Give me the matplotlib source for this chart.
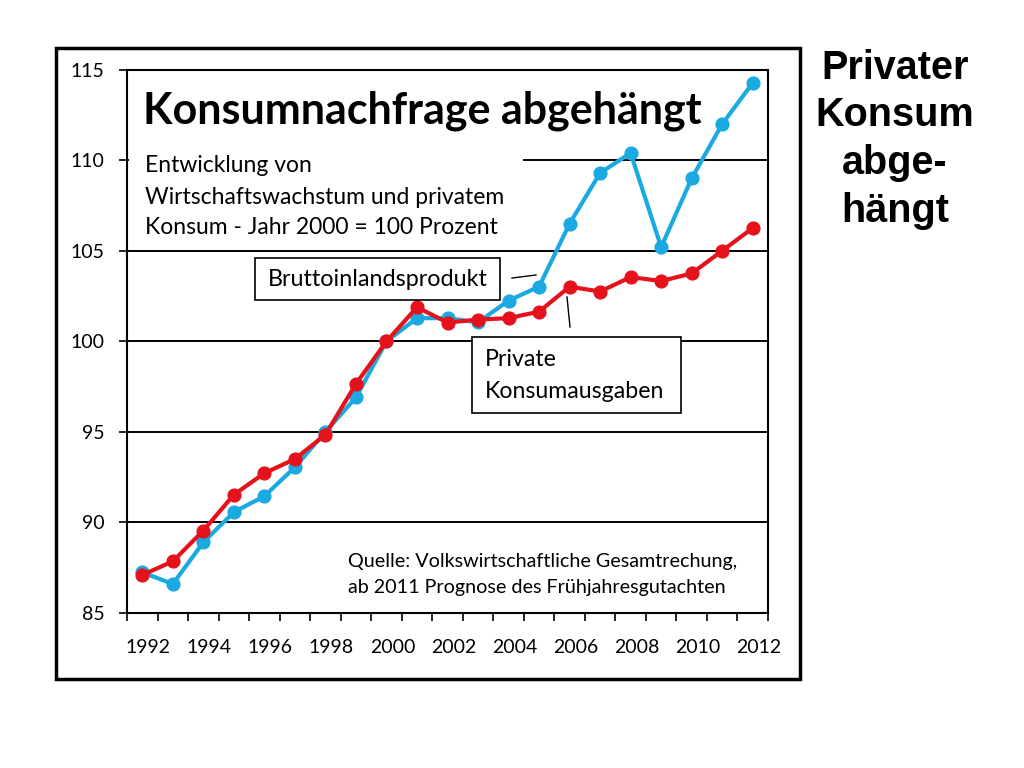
import matplotlib
matplotlib.use("Agg")
import matplotlib.pyplot as plt
from matplotlib.patches import Rectangle
from matplotlib.lines import Line2D
from matplotlib.transforms import ScaledTranslation
import numpy as np

years = list(range(1992, 2013))
bip = [87.25, 86.6, 88.9, 90.57, 91.45, 93.05, 95.0, 96.9, 100.0, 101.28, 101.28,
       101.05, 102.25, 103.02, 106.5, 109.3, 110.4, 105.2, 109.0, 112.0, 114.27]
konsum = [87.1, 87.85, 89.55, 91.53, 92.72, 93.5, 94.85, 97.65, 100.0, 101.88, 101.04,
          101.2, 101.28, 101.64, 103.02, 102.75, 103.55, 103.33, 103.75, 105.0, 106.26]
yticks = [85, 90, 95, 100, 105, 110, 115]
xlabels = [str(y) for y in range(1992, 2013, 2)]

BLUE = "#1BA9E1"
RED = "#E5121C"
FONT = "Lato"

W, H = 1024, 768
fig = plt.figure(figsize=(W / 100, H / 100), dpi=100)

def fx(x):
    return x / W

def fy(y):
    return 1 - y / H

ax = fig.add_axes([fx(127), fy(613), fx(768) - fx(127), fy(69.7) - fy(613)])
ax.set_xlim(1991.5, 2012.5)
ax.set_ylim(85, 115)

ax.set_axisbelow(True)
ax.yaxis.grid(True, color="black", linewidth=1.4)
ax.set_yticks(yticks)
ax.set_yticklabels([str(v) for v in yticks], fontsize=14, family=FONT)
ax.tick_params(axis="y", direction="out", length=6, width=1.2, pad=10)

ax.set_xticks(list(range(1992, 2013, 2)))
ax.set_xticklabels(xlabels, fontsize=14, family=FONT)
ax.set_xticks([1991.5 + k for k in range(22)], minor=True)
ax.tick_params(axis="x", which="major", length=0, pad=19)
ax.tick_params(axis="x", which="minor", direction="out", length=6, width=1.2)
for lab in ax.get_xticklabels():
    lab.set_transform(lab.get_transform() + ScaledTranslation(6 / 100, 0, fig.dpi_scale_trans))

for s in ax.spines.values():
    s.set_linewidth(1.5)
    s.set_color("black")

# white text-box background covering gridline at 110
ax.add_patch(Rectangle((1991.55, 105.4), 2004.47 - 1991.55, 9.3,
                       facecolor="white", edgecolor="none", zorder=1))

ax.plot(years, bip, color=BLUE, linewidth=3, marker="o", markersize=9.2, zorder=3)
ax.plot(years, konsum, color=RED, linewidth=3, marker="o", markersize=9.2, zorder=4)

# texts inside chart
fig.text(fx(143), fy(111), "Konsumnachfrage abgehängt", fontsize=31, fontweight="bold",
         family=FONT, va="center", ha="left", zorder=5)
fig.text(fx(145), fy(166), "Entwicklung von", fontsize=16.5, family=FONT, va="center", zorder=5)
fig.text(fx(145), fy(197), "Wirtschaftswachstum und privatem", fontsize=16.5, family=FONT,
         va="center", zorder=5)
fig.text(fx(145), fy(227), "Konsum - Jahr 2000 = 100 Prozent", fontsize=16.5, family=FONT,
         va="center", zorder=5)

# annotation boxes
fig.patches.append(Rectangle((fx(255), fy(300)), fx(500) - fx(255), fy(258) - fy(300),
                             transform=fig.transFigure, facecolor="white",
                             edgecolor="black", linewidth=1.2, zorder=5))
fig.text(fx(268), fy(280), "Bruttoinlandsprodukt", fontsize=16.8, family=FONT,
         va="center", ha="left", zorder=6)
fig.lines.append(Line2D([fx(512), fx(536)], [fy(278), fy(275)], transform=fig.transFigure,
                        color="black", linewidth=1))

fig.patches.append(Rectangle((fx(472), fy(413)), fx(681) - fx(472), fy(337) - fy(413),
                             transform=fig.transFigure, facecolor="white",
                             edgecolor="black", linewidth=1.2, zorder=5))
fig.text(fx(485), fy(360), "Private", fontsize=16.7, family=FONT, va="center", zorder=6)
fig.text(fx(485), fy(391), "Konsumausgaben", fontsize=16.7, family=FONT, va="center", zorder=6)
fig.lines.append(Line2D([fx(567), fx(570)], [fy(297), fy(327)], transform=fig.transFigure,
                        color="black", linewidth=1))

fig.text(fx(348), fy(561), "Quelle: Volkswirtschaftliche Gesamtrechung,", fontsize=14.2,
         family=FONT, va="center", zorder=6)
fig.text(fx(348), fy(587), "ab 2011 Prognose des Frühjahresgutachten", fontsize=14.2,
         family=FONT, va="center", zorder=6)

# outer frame
fig.patches.append(Rectangle((fx(56), fy(679)), fx(800) - fx(56), fy(48) - fy(679),
                             transform=fig.transFigure, facecolor="none",
                             edgecolor="black", linewidth=2.5, zorder=0))

# right title
for txt, yy in [("Privater", 68), ("Konsum", 115), ("abge-", 163), ("hängt", 211)]:
    fig.text(fx(895), fy(yy), txt, fontsize=28.5, fontweight="bold", family="Liberation Sans",
             ha="center", va="center")

fig.savefig("out.png", dpi=100)
